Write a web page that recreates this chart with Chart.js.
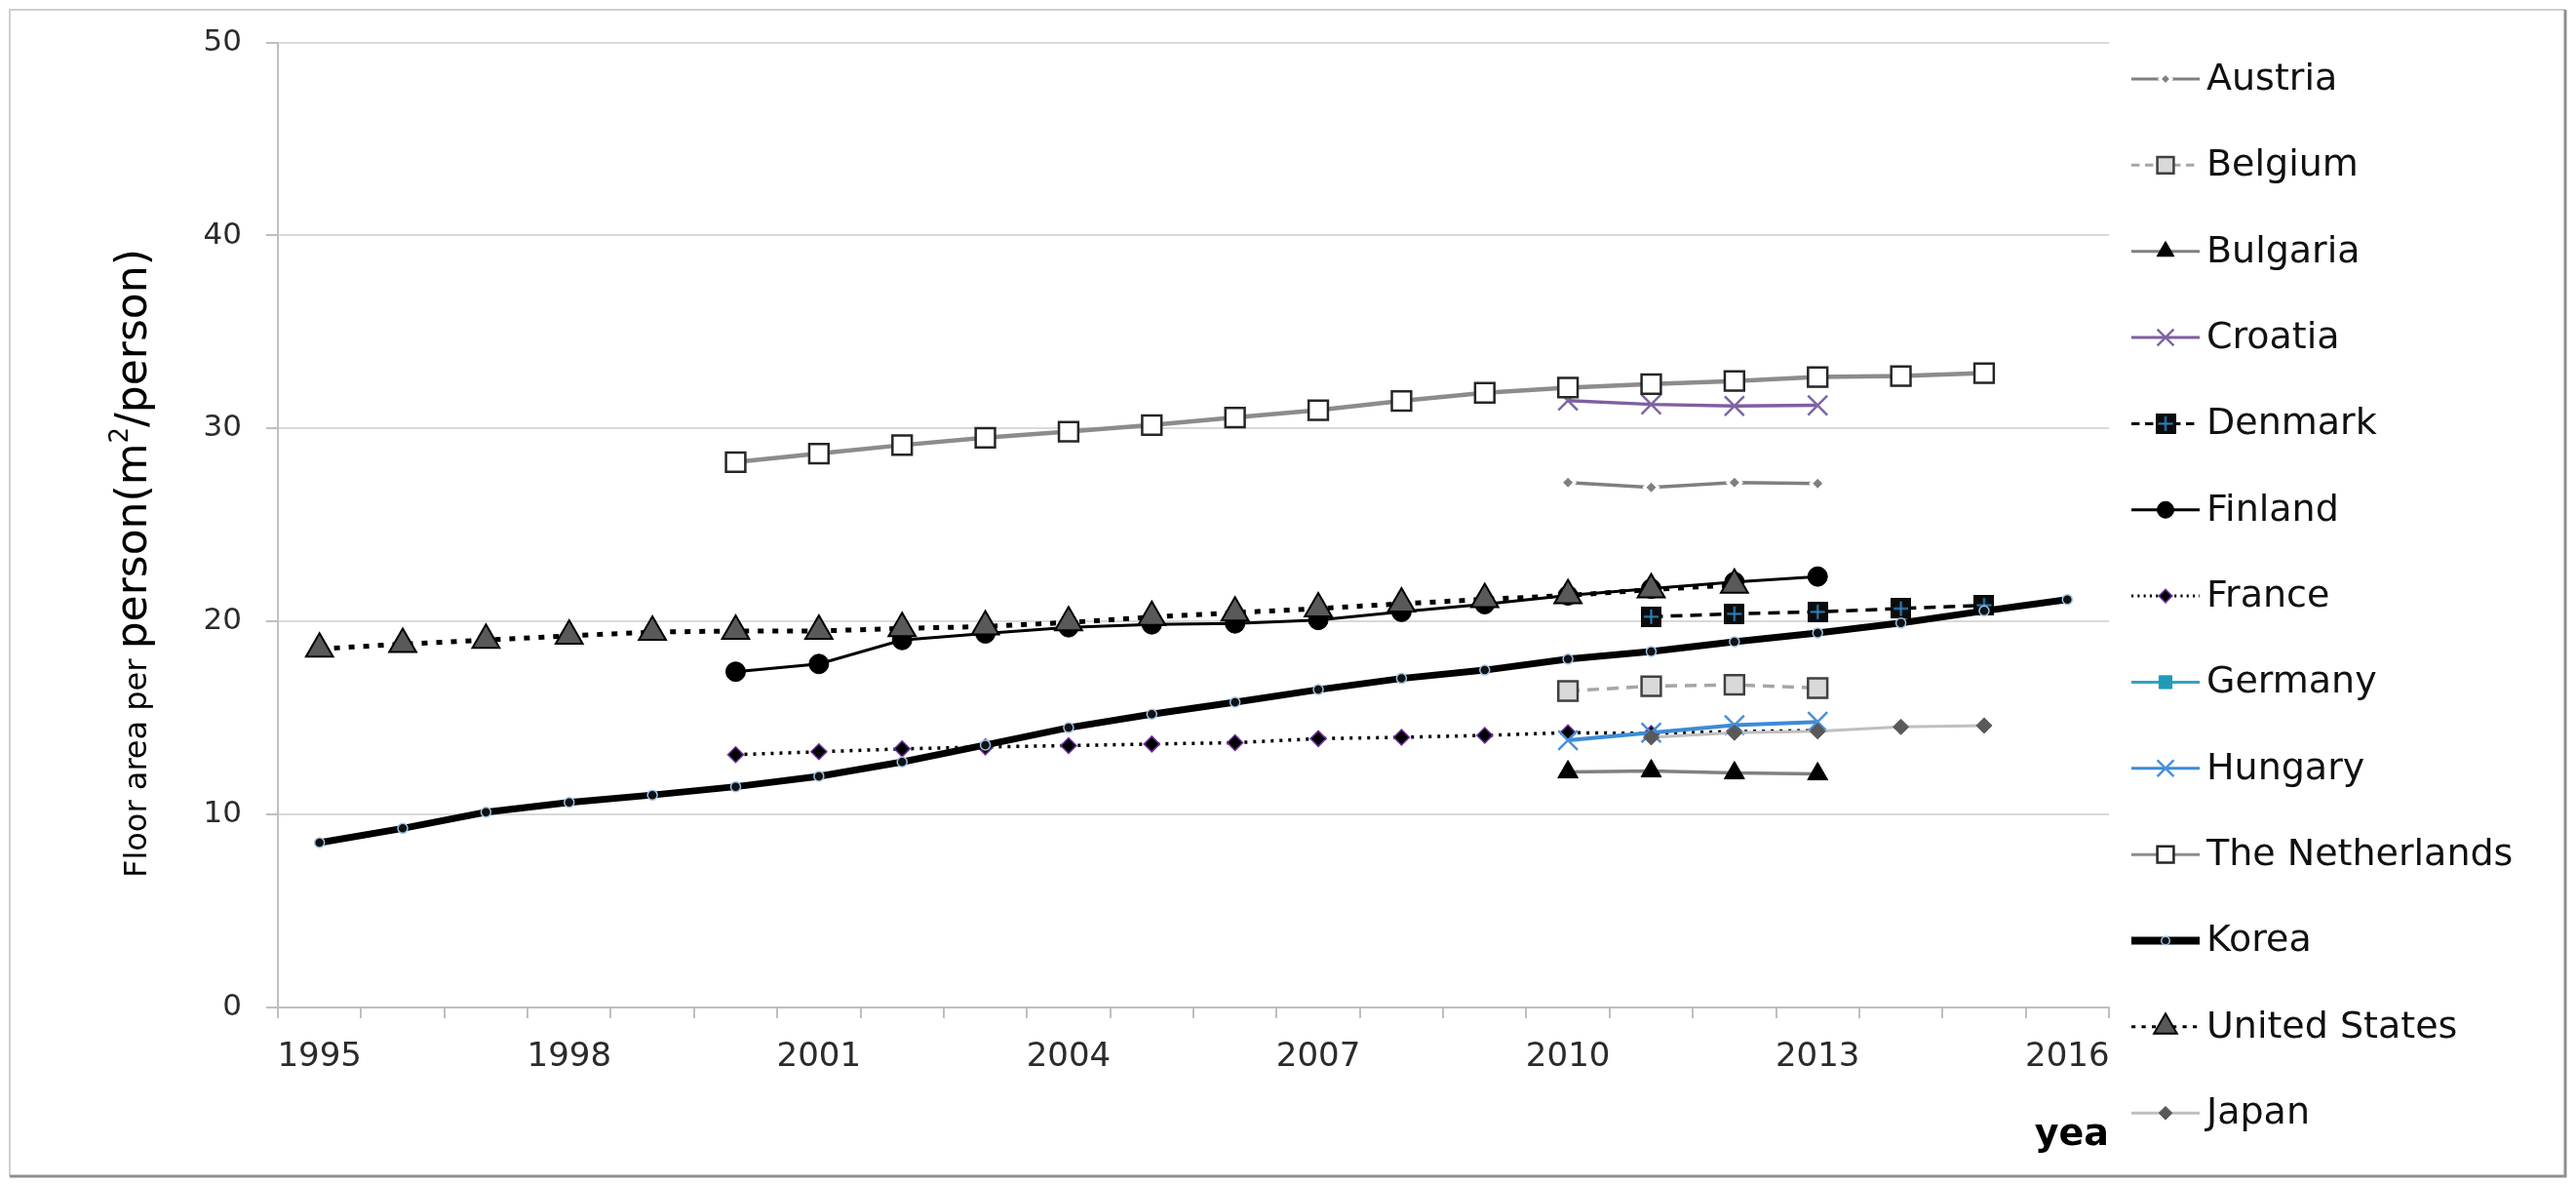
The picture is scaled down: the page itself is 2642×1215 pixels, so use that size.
<!DOCTYPE html>
<html>
<head>
<meta charset="utf-8">
<title>Floor area per person</title>
<script src="https://cdn.jsdelivr.net/npm/chart.js@4.4.1/dist/chart.umd.min.js"></script>
<style>
  html, body { margin: 0; padding: 0; background: #fff; }
  #wrap { position: relative; width: 2642px; height: 1215px; }
</style>
</head>
<body>
<div id="wrap"><canvas id="floor-chart"></canvas></div>
<script>
// categories (x axis) and the years that carry a label
const years = ["1995", "1996", "1997", "1998", "1999", "2000", "2001", "2002", "2003", "2004", "2005",
  "2006", "2007", "2008", "2009", "2010", "2011", "2012", "2013", "2014", "2015", "2016"];
const tickYears = ["1995", "1998", "2001", "2004", "2007", "2010", "2013", "2016"];
const yTicks = [0, 10, 20, 30, 40, 50];

// floor area per person, m2/person, each from its first year
const austria = [27.2, 26.95, 27.2, 27.15];            // 2010-
const belgium = [16.4, 16.65, 16.72, 16.55];           // 2010-
const bulgaria = [12.2, 12.25, 12.15, 12.1];           // 2010-
const croatia = [31.45, 31.25, 31.17, 31.2];           // 2010-
const denmark = [20.25, 20.4, 20.5, 20.67, 20.84];     // 2011-
const finland = [17.4, 17.8, 19.04, 19.38, 19.7, 19.85, 19.9, 20.08, 20.5, 20.9, 21.35, 21.7, 22.05, 22.33]; // 2000-
const france = [13.1, 13.25, 13.4, 13.5, 13.57, 13.65, 13.72, 13.93, 14.0, 14.1, 14.24, 14.2, 14.3, 14.35]; // 2000-
const germany = [];
const hungary = [13.85, 14.24, 14.63, 14.8];           // 2010-
const netherlands = [28.26, 28.7, 29.14, 29.52, 29.84, 30.18, 30.57, 30.95, 31.43, 31.85, 32.12, 32.3,
  32.46, 32.67, 32.72, 32.87];                         // 2000-
const korea = [8.54, 9.28, 10.12, 10.63, 11.01, 11.44, 11.98, 12.72, 13.6, 14.5, 15.2, 15.82, 16.47,
  17.05, 17.48, 18.05, 18.45, 18.95, 19.41, 19.92, 20.55, 21.14]; // 1995-
const unitedStates = [18.58, 18.83, 19.04, 19.26, 19.45, 19.51, 19.51, 19.64, 19.74, 19.95, 20.23,
  20.46, 20.67, 20.92, 21.15, 21.35, 21.65, 21.9];     // 1995-
const japan = [14.0, 14.24, 14.32, 14.54, 14.61];      // 2011-

// put a run of values on the year axis, empty elsewhere
function fromYear(start, values) {
  const out = years.map(() => null);
  const first = years.indexOf(String(start));
  values.forEach((v, i) => { out[first + i] = v; });
  return out;
}

// black square with a blue plus (Denmark marker)
function squarePlus() {
  const c = document.createElement("canvas");
  c.width = 21;
  c.height = 21;
  const g = c.getContext("2d");
  g.fillStyle = "#0b0b0b";
  g.fillRect(0, 0, 21, 21);
  g.strokeStyle = "#2e86c1";
  g.lineWidth = 2;
  g.beginPath();
  g.moveTo(10.5, 3); g.lineTo(10.5, 18);
  g.moveTo(3, 10.5); g.lineTo(18, 10.5);
  g.stroke();
  return c;
}

const series = [
  { label: "Austria", data: fromYear(2010, austria), borderColor: "#7f7f7f", borderWidth: 3.5,
    pointStyle: "rectRot", pointRadius: 7, pointBackgroundColor: "#7f7f7f", pointBorderColor: "#ffffff", pointBorderWidth: 3 },
  { label: "Belgium", data: fromYear(2010, belgium), borderColor: "#a6a6a6", borderWidth: 3.5, borderDash: [12, 8],
    pointStyle: "rect", pointRadius: 14, pointBackgroundColor: "#d9d9d9", pointBorderColor: "#404040", pointBorderWidth: 2.5 },
  { label: "Bulgaria", data: fromYear(2010, bulgaria), borderColor: "#808080", borderWidth: 3.5,
    pointStyle: "triangle", pointRadius: 12, pointBackgroundColor: "#000000", pointBorderColor: "#000000", pointBorderWidth: 1 },
  { label: "Croatia", data: fromYear(2010, croatia), borderColor: "#7f5fa0", borderWidth: 3.5,
    pointStyle: "crossRot", pointRadius: 14, pointBackgroundColor: "#8064a2", pointBorderColor: "#8064a2", pointBorderWidth: 2.5 },
  { label: "Denmark", data: fromYear(2011, denmark), borderColor: "#000000", borderWidth: 3.5, borderDash: [12, 8],
    pointStyle: squarePlus(), pointRadius: 10, pointBackgroundColor: "#0b0b0b", pointBorderColor: "#000000", pointBorderWidth: 1 },
  { label: "Finland", data: fromYear(2000, finland), borderColor: "#000000", borderWidth: 3,
    pointStyle: "circle", pointRadius: 10, pointBackgroundColor: "#000000", pointBorderColor: "#000000", pointBorderWidth: 1 },
  { label: "France", data: fromYear(2000, france), borderColor: "#000000", borderWidth: 3.5, borderDash: [3, 6],
    pointStyle: "rectRot", pointRadius: 8, pointBackgroundColor: "#000000", pointBorderColor: "#7030a0", pointBorderWidth: 1.5 },
  { label: "Germany", data: fromYear(2010, germany), borderColor: "#31a5c0", borderWidth: 3.5,
    pointStyle: "rect", pointRadius: 11, pointBackgroundColor: "#1f9bb8", pointBorderColor: "#1f9bb8", pointBorderWidth: 1 },
  { label: "Hungary", data: fromYear(2010, hungary), borderColor: "#3d8bd6", borderWidth: 4,
    pointStyle: "crossRot", pointRadius: 14, pointBackgroundColor: "#4a90d9", pointBorderColor: "#4a90d9", pointBorderWidth: 2.5 },
  { label: "The Netherlands", data: fromYear(2000, netherlands), borderColor: "#8c8c8c", borderWidth: 4.5,
    pointStyle: "rect", pointRadius: 14, pointBackgroundColor: "#ffffff", pointBorderColor: "#262626", pointBorderWidth: 2.5 },
  { label: "Korea", data: fromYear(1995, korea), borderColor: "#000000", borderWidth: 7,
    pointStyle: "circle", pointRadius: 5, pointBackgroundColor: "#111111", pointBorderColor: "#9dc3e6", pointBorderWidth: 1.5 },
  { label: "United States", data: fromYear(1995, unitedStates), borderColor: "#000000", borderWidth: 5, borderDash: [6, 9],
    pointStyle: "triangle", pointRadius: 16, pointBackgroundColor: "#595959", pointBorderColor: "#000000", pointBorderWidth: 2 },
  { label: "Japan", data: fromYear(2011, japan), borderColor: "#bfbfbf", borderWidth: 3,
    pointStyle: "rectRot", pointRadius: 8, pointBackgroundColor: "#595959", pointBorderColor: "#595959", pointBorderWidth: 1 },
];

// later series are drawn on top, as in the source
series.forEach((s, i) => {
  s.order = series.length - i;
  s.fill = false;
  s.tension = 0;
  s.spanGaps = false;
});

const FONT = '"DejaVu Sans", sans-serif';
Chart.defaults.font.family = FONT;

// outer frame round the whole figure
const framePlugin = {
  id: "frame",
  beforeDraw(chart) {
    const ctx = chart.ctx;
    ctx.save();
    ctx.fillStyle = "#ffffff";
    ctx.fillRect(0, 0, chart.width, chart.height);
    ctx.lineWidth = 2;
    ctx.strokeStyle = "#cfcfcf";
    ctx.beginPath();
    ctx.moveTo(10, 1206); ctx.lineTo(10, 10); ctx.lineTo(2631, 10);
    ctx.stroke();
    ctx.lineWidth = 3;
    ctx.strokeStyle = "#8f8f8f";
    ctx.beginPath();
    ctx.moveTo(2631, 10); ctx.lineTo(2631, 1206); ctx.lineTo(10, 1206);
    ctx.stroke();
    ctx.restore();
  },
};

// y title with two sizes and a superscript
const yTitlePlugin = {
  id: "yTitle",
  afterDraw(chart) {
    const ctx = chart.ctx;
    ctx.save();
    ctx.translate(150, 900);
    ctx.rotate(-Math.PI / 2);
    ctx.fillStyle = "#000000";
    ctx.textBaseline = "alphabetic";
    let x = 0;
    const parts = [
      ["Floor area per ", 32, 0],
      ["person(m", 44, 0],
      ["2", 26, -19],
      ["/person)", 44, 0],
    ];
    parts.forEach(([text, size, dy]) => {
      ctx.font = size + "px " + FONT;
      ctx.fillText(text, x, dy);
      x += ctx.measureText(text).width;
    });
    ctx.restore();
  },
};

// legend on the right: line sample with marker, then name
const sideLegendPlugin = {
  id: "sideLegend",
  afterDraw(chart) {
    const ctx = chart.ctx;
    const drawPoint = Chart.helpers && Chart.helpers.drawPoint;
    chart.data.datasets.forEach((ds, i) => {
      const y = 81 + i * 88.35;
      ctx.save();
      ctx.strokeStyle = ds.borderColor;
      ctx.lineWidth = ds.label === "Korea" ? 8 : 3;
      ctx.setLineDash(ds.borderDash ? ds.borderDash.map((d) => d * 0.7) : []);
      ctx.beginPath();
      ctx.moveTo(2186, y);
      ctx.lineTo(2256, y);
      ctx.stroke();
      ctx.setLineDash([]);
      if (drawPoint) {
        ctx.fillStyle = ds.pointBackgroundColor;
        ctx.strokeStyle = ds.pointBorderColor;
        ctx.lineWidth = ds.pointBorderWidth;
        drawPoint(ctx, {
          pointStyle: ds.pointStyle,
          radius: ds.pointRadius * 0.85,
          rotation: 0,
          borderWidth: ds.pointBorderWidth,
        }, 2221, y);
      }
      ctx.fillStyle = "#111111";
      ctx.font = "38px " + FONT;
      ctx.textBaseline = "middle";
      ctx.textAlign = "left";
      ctx.fillText(ds.label, 2263, y + 1);
      ctx.restore();
    });
  },
};

const floorChart = new Chart(document.querySelector("#floor-chart").getContext("2d"), {
  type: "line",
  data: { labels: years, datasets: series },
  plugins: [framePlugin, yTitlePlugin, sideLegendPlugin],
  options: {
    responsive: true,
    maintainAspectRatio: false,
    animation: false,
    events: [],
    layout: { padding: { left: 0, top: 30, right: 479, bottom: 0 } },
    plugins: {
      legend: { display: false },
      tooltip: { enabled: false },
      title: { display: false },
    },
    scales: {
      x: {
        type: "category",
        offset: true,
        afterFit: (axis) => { axis.height = 182; },
        border: { display: true, color: "#bfbfbf", width: 2 },
        grid: {
          offset: true,
          drawOnChartArea: false,
          drawTicks: true,
          tickLength: 11,
          color: "#bfbfbf",
          lineWidth: 2,
        },
        ticks: {
          autoSkip: false,
          maxRotation: 0,
          padding: 20,
          color: "#2b2b2b",
          font: { size: 34 },
          callback: function (value) {
            const lab = this.getLabelForValue(value);
            return tickYears.includes(lab) ? lab : "";
          },
        },
        title: {
          display: true,
          text: "yea",
          align: "end",
          color: "#000000",
          font: { size: 38, weight: "bold" },
          padding: { top: 0, bottom: 28 },
        },
      },
      y: {
        min: yTicks[0],
        max: yTicks[yTicks.length - 1],
        afterFit: (axis) => { axis.width = 285; },
        afterBuildTicks: (axis) => { axis.ticks = yTicks.map((v) => ({ value: v })); },
        border: { display: true, color: "#bfbfbf", width: 2 },
        grid: {
          color: "#d9d9d9",
          lineWidth: 2,
          drawTicks: true,
          tickLength: 12,
          tickColor: "#bfbfbf",
        },
        ticks: {
          padding: 25,
          color: "#2b2b2b",
          font: { size: 31 },
        },
        title: { display: false },
      },
    },
  },
});
</script>
</body>
</html>
